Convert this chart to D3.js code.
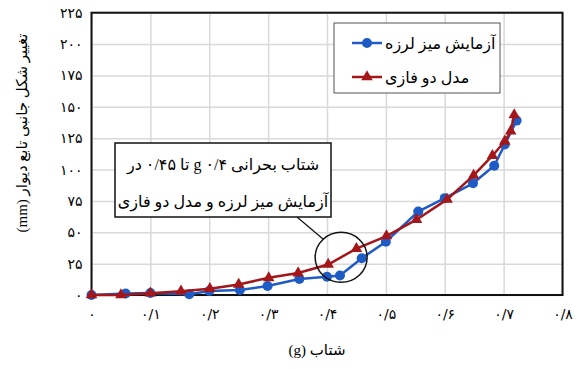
<!DOCTYPE html>
<html>
<head>
<meta charset="utf-8">
<script src="https://cdn.jsdelivr.net/npm/d3@7"></script>
<style>
  html, body { margin: 0; padding: 0; background: #fff; }
  svg { display: block; }
  text { font-family: "Liberation Serif", "DejaVu Sans", serif; fill: #000; }
</style>
</head>
<body>
<svg id="chart" width="584" height="369"></svg>
<script>
// Shake-table test (blue circles) and two-phase model (red triangles)
const blueX = [0, 0.058, 0.1, 0.166, 0.2, 0.252, 0.299, 0.353, 0.4, 0.422, 0.459, 0.5, 0.555, 0.6, 0.648, 0.684, 0.702, 0.722];
const blueY = [0, 1.2, 1.6, 0.6, 3.2, 4, 7.2, 12.8, 14.6, 15.6, 29.3, 42.5, 66.5, 77.2, 89, 103, 120, 139];
const redX = [0, 0.05, 0.1, 0.152, 0.201, 0.25, 0.301, 0.351, 0.402, 0.45, 0.501, 0.552, 0.604, 0.649, 0.681, 0.702, 0.712, 0.718];
const redY = [0, 0, 1.4, 3, 5, 8.4, 13.7, 17.5, 24.3, 37, 47, 60, 76.2, 95.3, 111, 122.5, 130.5, 143.6];

const seriesNames = ["آزمایش میز لرزه", "مدل دو فازی"];

const xTicks = [0, 0.1, 0.2, 0.3, 0.4, 0.5, 0.6, 0.7, 0.8];
const xTickLabels = ["۰", "۰/۱", "۰/۲", "۰/۳", "۰/۴", "۰/۵", "۰/۶", "۰/۷", "۰/۸"];
const yTicks = [0, 25, 50, 75, 100, 125, 150, 175, 200, 225];
const yTickLabels = ["۰", "۲۵", "۵۰", "۷۵", "۱۰۰", "۱۲۵", "۱۵۰", "۱۷۵", "۲۰۰", "۲۲۵"];

const xTitle = "شتاب (g)";
const yTitle = "تغییر شکل جانبی تابع دیوار (mm)";
const noteLines = ["شتاب بحرانی g ۰/۴ تا ۰/۴۵ در", "آزمایش میز لرزه و مدل دو فازی"];

const svg = d3.select("#chart");
const L = 91.5, R = 562.5, T = 12.7, B = 295;
const x = d3.scaleLinear().domain([0, 0.8]).range([L, R]);
const y = d3.scaleLinear().domain([0, 225]).range([B, T]);

// Right-to-left text centred on (cx, cy)
function rtlText(parent, str, cx, cy, size) {
  return parent.append("text").attr("x", cx).attr("y", cy).attr("dy", "0.35em")
    .attr("text-anchor", "middle").style("direction", "rtl")
    .style("font-size", size + "px").text(str);
}

// grid
svg.append("g").attr("transform", `translate(0,${B})`)
  .call(d3.axisBottom(x).tickValues(xTicks).tickSize(-(B - T)).tickFormat(""))
  .call(g => g.select(".domain").remove())
  .call(g => g.selectAll("line").attr("stroke", "#d9d9d9").attr("stroke-width", 1.5));
svg.append("g").attr("transform", `translate(${L},0)`)
  .call(d3.axisLeft(y).tickValues(yTicks).tickSize(-(R - L)).tickFormat(""))
  .call(g => g.select(".domain").remove())
  .call(g => g.selectAll("line").attr("stroke", "#d9d9d9").attr("stroke-width", 1.5));

// tick labels
svg.append("g").attr("transform", `translate(0,${B})`)
  .call(d3.axisBottom(x).tickValues(xTicks).tickSize(0).tickPadding(14)
    .tickFormat((d, i) => xTickLabels[i]))
  .call(g => g.select(".domain").remove())
  .call(g => g.selectAll("text").style("font-size", "14px")
    .style("font-family", "'DejaVu Sans', sans-serif"));
svg.append("g").attr("transform", `translate(${L},0)`)
  .call(d3.axisLeft(y).tickValues(yTicks).tickSize(0).tickPadding(9)
    .tickFormat((d, i) => yTickLabels[i]))
  .call(g => g.select(".domain").remove())
  .call(g => g.selectAll("text").style("font-size", "14px")
    .style("font-family", "'DejaVu Sans', sans-serif"));

// plot frame
svg.append("rect").attr("x", L).attr("y", T).attr("width", R - L).attr("height", B - T)
  .attr("fill", "none").attr("stroke", "#111").attr("stroke-width", 2);

const blue = "#1f5bc4", red = "#a3161a";
const line = d3.line().x(d => x(d[0])).y(d => y(d[1]));
const blueData = blueX.map((v, i) => [v, blueY[i]]);
const redData = redX.map((v, i) => [v, redY[i]]);

svg.append("path").datum(blueData).attr("d", line)
  .attr("fill", "none").attr("stroke", blue).attr("stroke-width", 2.5);
svg.append("g").selectAll("circle").data(blueData).join("circle")
  .attr("cx", d => x(d[0])).attr("cy", d => y(d[1])).attr("r", 5).attr("fill", blue);

const tri = d3.symbol().type(d3.symbolTriangle).size(58);
svg.append("path").datum(redData).attr("d", line)
  .attr("fill", "none").attr("stroke", red).attr("stroke-width", 2.5);
svg.append("g").selectAll("path").data(redData).join("path")
  .attr("d", tri).attr("transform", d => `translate(${x(d[0])},${y(d[1])})`).attr("fill", red);

// legend
const lg = svg.append("g");
lg.append("rect").attr("x", 334).attr("y", 23).attr("width", 166).attr("height", 70)
  .attr("fill", "#fff").attr("stroke", "#555").attr("stroke-width", 1);
const lgRows = [
  { name: seriesNames[0], color: blue, sym: "circle", yy: 43 },
  { name: seriesNames[1], color: red, sym: "tri", yy: 77 }
];
lgRows.forEach(r => {
  lg.append("line").attr("x1", 352).attr("x2", 382).attr("y1", r.yy).attr("y2", r.yy)
    .attr("stroke", r.color).attr("stroke-width", 2.5);
  if (r.sym === "circle") {
    lg.append("circle").attr("cx", 367).attr("cy", r.yy).attr("r", 5).attr("fill", r.color);
  } else {
    lg.append("path").attr("d", tri).attr("transform", `translate(367,${r.yy})`).attr("fill", r.color);
  }
  const t = rtlText(lg, r.name, 0, r.yy, 16);
  const w = t.node().getComputedTextLength();
  t.attr("x", 385 + w / 2);
});

// annotation: circle around the critical range and its callout
svg.append("ellipse").attr("cx", x(0.424)).attr("cy", y(30)).attr("rx", 26).attr("ry", 25)
  .attr("fill", "none").attr("stroke", "#111").attr("stroke-width", 1.5);
svg.append("line").attr("x1", 297).attr("y1", 217).attr("x2", 323).attr("y2", 239)
  .attr("stroke", "#111").attr("stroke-width", 1.2);
svg.append("rect").attr("x", 115).attr("y", 143).attr("width", 216).attr("height", 74)
  .attr("fill", "#fff").attr("stroke", "#111").attr("stroke-width", 1.5);
noteLines.forEach((t, i) => rtlText(svg, t, 223, 164 + i * 37, 16));

// axis titles
rtlText(svg, xTitle, 317, 350, 15);
svg.append("text").attr("transform", "translate(22,133) rotate(-90)").attr("dy", "0.35em")
  .attr("text-anchor", "middle").style("font-size", "15px").style("direction", "rtl")
  .text(yTitle);
</script>
</body>
</html>
